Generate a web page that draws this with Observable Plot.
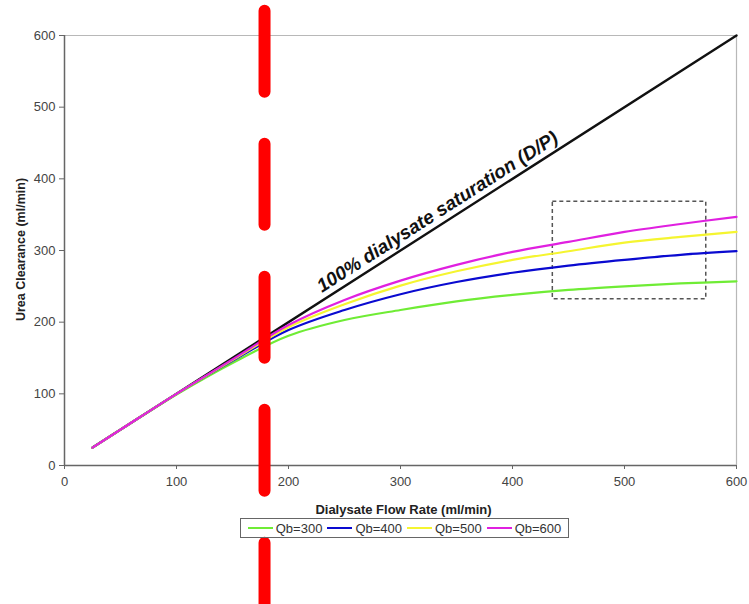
<!DOCTYPE html>
<html>
<head>
<meta charset="utf-8">
<script src="https://cdn.jsdelivr.net/npm/d3@7"></script>
<script src="https://cdn.jsdelivr.net/npm/@observablehq/plot@0.6"></script>
<style>
  html, body { margin: 0; padding: 0; background: #fff; }
  body { width: 749px; height: 604px; overflow: hidden; font-family: "Liberation Sans", Arial, sans-serif; }
  #chart svg { overflow: visible; }
  .legend {
    position: absolute; left: 240px; top: 518px; width: 327px; height: 18px;
    border: 1px solid #666; box-sizing: content-box;
    display: flex; align-items: center; justify-content: center; gap: 5px;
    font-size: 13px; color: #333; background: transparent;
  }
  .legend .item { display: flex; align-items: center; gap: 3px; }
  .legend .sw { width: 25px; height: 2px; }
</style>
</head>
<body>
<div id="chart"></div>
<script>
// Dialysate flow rate (ml/min)
const flow = [25, 50, 100, 150, 200, 250, 300, 350, 400, 450, 500, 550, 600];
// Urea clearance (ml/min) for each blood flow rate
const qb300 = [25, 50, 99, 143, 181, 203, 217, 229, 238, 245, 250, 254, 257];
const qb400 = [25, 50, 100, 146, 189, 217, 239, 256, 269, 279, 287, 294, 299];
const qb500 = [25, 50, 100, 147, 193, 225, 251, 271, 287, 299, 311, 319, 326];
const qb600 = [25, 50, 100, 148, 196, 231, 258, 280, 298, 312, 326, 337, 347];

const seriesNames = ["Qb=300", "Qb=400", "Qb=500", "Qb=600"];
const seriesValues = [qb300, qb400, qb500, qb600];
const seriesColors = ["#6fec35", "#0a0ad0", "#f5f530", "#e020e0"];

// 100% saturation reference: clearance equals dialysate flow
const saturationX = [25, 600];
const saturationLabel = "100% dialysate saturation (D/P)";
const saturationLabelAt = 339;

// Highlighted region (dashed box)
const boxX = [436, 573];
const boxY = [232, 368];

// Vertical marker at this dialysate flow
const markerFlow = 178.6;
const markerSpan = [634, -203];

const xTicks = [0, 100, 200, 300, 400, 500, 600];
const yTicks = [0, 100, 200, 300, 400, 500, 600];

const rows = seriesNames.flatMap((name, i) =>
  flow.map((f, j) => ({series: name, flow: f, clearance: seriesValues[i][j]}))
);
const satRows = saturationX.map(v => ({flow: v, clearance: v}));

const font = "'Liberation Sans', Arial, sans-serif";

const chart = Plot.plot({
  width: 749,
  height: 516,
  marginLeft: 64,
  marginRight: 13,
  marginTop: 35,
  marginBottom: 51,
  style: {fontFamily: font, fontSize: "13px", color: "#333", background: "transparent"},
  x: {domain: [0, 600]},
  y: {domain: [0, 600]},
  color: {domain: seriesNames, range: seriesColors},
  marks: [
    // plot frame: light top/right edges
    Plot.ruleY([600], {stroke: "#b8b8b8", strokeWidth: 1.2}),
    Plot.ruleX([600], {stroke: "#b8b8b8", strokeWidth: 1.2}),
    Plot.axisX({ticks: xTicks, tickSize: 4, tickPadding: 7, label: null, stroke: "#666", fill: "#444", fontSize: 13}),
    Plot.axisY({ticks: yTicks, tickSize: 5, tickPadding: 4, label: null, stroke: "#666", fill: "#444", fontSize: 13}),
    Plot.ruleX([0], {stroke: "#666", strokeWidth: 1.5}),
    Plot.ruleY([0], {stroke: "#666", strokeWidth: 1.5}),
    // dashed highlight box
    Plot.rect([{x1: boxX[0], x2: boxX[1], y1: boxY[0], y2: boxY[1]}], {
      x1: "x1", x2: "x2", y1: "y1", y2: "y2",
      fill: "none", stroke: "#555", strokeWidth: 1.5, strokeDasharray: "4,3"
    }),
    // saturation line
    Plot.line(satRows, {x: "flow", y: "clearance", stroke: "#111", strokeWidth: 2.4}),
    Plot.text([saturationLabel], {
      x: saturationLabelAt, y: saturationLabelAt, rotate: -32.6,
      lineAnchor: "bottom", textAnchor: "middle", dx: -3.5, dy: -5.5,
      fontSize: 19, fontWeight: "bold", fontStyle: "italic", fill: "#111"
    }),
    // clearance curves
    Plot.line(rows, {x: "flow", y: "clearance", z: "series", stroke: "series", strokeWidth: 2.2, curve: "catmull-rom"}),
    // axis titles
    Plot.text(["Dialysate Flow Rate (ml/min)"], {frameAnchor: "bottom", dx: 3, dy: 48, fontWeight: "bold", fontSize: 13, fill: "#222"}),
    Plot.text(["Urea Clearance (ml/min)"], {
      frameAnchor: "left", rotate: -90, dx: -44, dy: -1,
      textAnchor: "middle", lineAnchor: "middle",
      fontWeight: "bold", fontSize: 12.5, fill: "#222"
    }),
    // vertical marker
    Plot.ruleX([markerFlow], {
      y1: markerSpan[0], y2: markerSpan[1],
      stroke: "#ff0000", strokeWidth: 12, strokeLinecap: "round", strokeDasharray: "81,52"
    })
  ]
});
document.getElementById("chart").append(chart);

// legend below the plot
const legend = document.createElement("div");
legend.className = "legend";
seriesNames.forEach((name, i) => {
  const item = document.createElement("div");
  item.className = "item";
  const sw = document.createElement("div");
  sw.className = "sw";
  sw.style.background = seriesColors[i];
  const label = document.createElement("span");
  label.textContent = name;
  item.append(sw, label);
  legend.append(item);
});
document.body.append(legend);
</script>
</body>
</html>
